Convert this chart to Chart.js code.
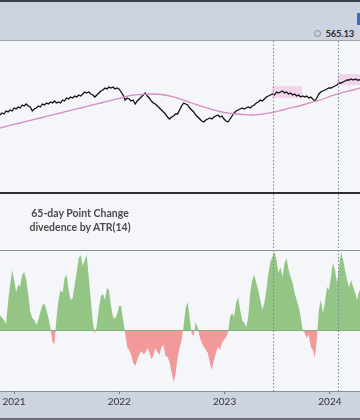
<!DOCTYPE html>
<html><head><meta charset="utf-8">
<script src="https://cdn.jsdelivr.net/npm/chart.js@4.4.1/dist/chart.umd.min.js"></script>
<style>
html,body{margin:0;padding:0;width:360px;height:420px;overflow:hidden;background:#f4f6fa;font-family:Lato,"Open Sans",sans-serif;}
.abs{position:absolute;}
#hdr{left:0;top:0;width:360px;height:40px;background:#cdd3e0;border-top:2px solid #3a3f4a;box-sizing:border-box;}
#hdrLine{left:0;top:40px;width:360px;height:1px;background:#9ea4ae;}
#priceWrap{left:0;top:41px;width:360px;height:151px;}
#sep1{left:0;top:192px;width:360px;height:2px;background:#2e2e2e;}
#sep2{left:0;top:250px;width:360px;height:1px;background:#8a8e96;}
#axisBand{left:0;top:391px;width:360px;height:29px;background:#cdd3e0;border-top:1px solid #8a8e96;border-bottom:2px solid #6a6e78;box-sizing:border-box;}
#histWrap{left:0;top:194px;width:360px;height:226px;}
#label{left:20px;top:206px;width:120px;text-align:center;font-weight:700;font-size:10.5px;line-height:14px;color:#4a4a4a;z-index:5;}
#last{right:6px;top:28px;font-weight:700;font-size:9.5px;line-height:11px;letter-spacing:-0.2px;color:#2a2a2a;}
#dot{left:314px;top:30px;width:5px;height:5px;border:1px solid #8a8e96;border-radius:50%;}
#blue{left:357px;top:13px;width:3px;height:12px;background:#3a6fc0;}
canvas{display:block;}
</style></head>
<body>
<div id="hdr" class="abs"></div>
<div id="hdrLine" class="abs"></div>
<div id="blue" class="abs"></div>
<div id="dot" class="abs"></div>
<div id="last" class="abs">565.13</div>
<div id="sep1" class="abs"></div>
<div id="sep2" class="abs"></div>
<div id="axisBand" class="abs"></div>
<div id="priceWrap" class="abs"><canvas id="price" width="360" height="151"></canvas></div>
<div id="histWrap" class="abs"><canvas id="hist" width="360" height="226"></canvas></div>
<div id="label" class="abs">65-day Point Change<br>divedence by ATR(14)</div>
<script>
// ---- data (weekly observations starting 2020-11-13) ----
const startYear = 2020.867;
const endYear = 2024.286;
const weekStep = 7 / 365.25;

const closePrices = [
477.5,482.5,480,487.5,485,490,487.5,495,492.5,497.5,495,502.5,500,505,500,497.5,487.5,492.5,495,500,
497.5,505,502.5,507.5,505,510,507.5,512.5,507.5,510,507.5,515,512.5,520,517.5,522.5,520,525,522.5,527.5,
525,530,535,532.5,535,530,527.5,522.5,527.5,532.5,537.5,540,545,542.5,547.5,545,547.5,542.5,545,542.5,
535,527.5,515,520,517.5,512.5,515,505,512.5,517.5,522.5,527.5,532.5,525,520,512.5,507.5,505,500,495,
490,485,480,472.5,467.5,472.5,475,480,480,490,500,507.5,505,502.5,495,490,485,477.5,472.5,467.5,
462.5,460,465,467.5,470,467.5,472.5,475,477.5,472.5,475,467.5,462.5,460,467.5,475,482.5,487.5,490,492.5,
495,492.5,495,497.5,495,500,502.5,507.5,510,515,512.5,517.5,522.5,525,527.5,530,527.5,535,532.5,535,
537.5,532.5,535,530,532.5,527.5,530,525,527.5,522.5,525,522.5,525,520,522.5,517.5,512.5,520,530,535,
537.5,540,542.5,545,545,547.5,550,552.5,557.5,557.5,560,562.5,565,565,567.5,565,567.5,565,565,567.5,
565.13
];

const smaStepWeeks = 5;
const sma200 = [
445,451.3,457.5,463.8,470,476.3,482.5,488.8,495,501.3,507.5,513.8,520,526.3,528.8,530,528.8,523.8,516.3,507.5,
498.8,491.3,485,481.3,478.8,477.5,480,483.8,490,496.3,502.5,510,517.5,526.3,533.8,540,547.5
];

// 65-day point change divided by ATR(14)
const pointChangeATR = [
1.5,1.2,1.0,0.6,2.8,4.5,6.0,5.0,3.8,4.5,4.4,5.5,5.8,5.0,3.5,1.8,1.2,1.0,0.5,1.0,
1.8,2.5,2.6,2.0,1.2,0.2,-1.2,-1.4,1.2,3.0,4.0,3.7,5.2,5.5,4.0,3.0,3.2,4.5,5.8,7.2,
7.5,6.4,7.0,7.5,5.2,3.0,0.8,-0.4,0.5,2.2,3.4,3.6,3.0,4.2,4.0,2.4,1.3,1.1,1.6,2.4,
2.4,1.0,-0.3,-1.7,-2.0,-2.5,-3.3,-3.6,-3.0,-2.5,-2.1,-2.4,-2.3,-1.8,-2.2,-2.9,-2.6,-1.8,-2.2,-2.5,
-1.7,-1.5,-2.6,-2.7,-3.2,-4.2,-5.2,-4.4,-2.8,-1.8,-1.0,0.4,2.2,2.8,1.2,-0.4,-0.6,0.8,0.2,-0.7,
-1.3,-1.7,-2.0,-2.3,-3.3,-4.0,-3.0,-2.3,-1.7,-2.0,-1.3,-1.0,-0.7,-0.3,1.3,1.7,1.3,2.7,3.3,2.0,
1.0,0.7,0.3,1.3,3.7,5.0,5.5,4.7,4.0,3.0,2.0,2.7,4.0,5.7,6.8,7.3,7.8,7.0,5.7,6.3,
5.3,6.7,7.2,6.0,5.3,4.7,3.7,3.0,2.3,1.3,0,-0.3,-0.8,-0.5,-1.7,-2.0,-2.8,-1.0,2.0,3.0,
1.7,2.7,4.3,4.0,5.3,6.7,6.0,4.7,6.3,7.8,7.0,6.0,5.0,4.3,5.0,4.3,3.7,3.0,4.0,3.3,
3.0
];

// event markers and highlighted zones
const eventMarkers = [2023.46, 2024.077];
const zones = [
  {from: 2023.449, to: 2023.735, hi: 550, lo: 520},
  {from: 2024.072, to: 2024.29, hi: 580, lo: 552.5}
];
const yearTicks = [2021, 2022, 2023, 2024];

// ---- build point lists ----
const pricePts = closePrices.map((v, i) => ({x: startYear + i * weekStep, y: v}));
const smaPts = sma200.map((v, i) => ({x: startYear + i * smaStepWeeks * weekStep, y: v}));
const histPts = pointChangeATR.map((v, i) => ({x: startYear + i * weekStep, y: v}));

const markerPlugin = {
  id: 'markers',
  afterDatasetsDraw(chart) {
    const ctx = chart.ctx, xs = chart.scales.x;
    ctx.save();
    ctx.strokeStyle = '#7d8596';
    ctx.lineWidth = 1;
    ctx.setLineDash([1.5, 2]);
    eventMarkers.forEach(m => {
      const px = Math.round(xs.getPixelForValue(m)) + 0.5;
      ctx.beginPath();
      ctx.moveTo(px, 0);
      ctx.lineTo(px, chart.chartArea.bottom);
      ctx.stroke();
    });
    ctx.restore();
  }
};

const zonePlugin = {
  id: 'zones',
  beforeDatasetsDraw(chart) {
    const ctx = chart.ctx, xs = chart.scales.x, ys = chart.scales.y;
    ctx.save();
    ctx.fillStyle = 'rgba(240,196,228,0.65)';
    zones.forEach(z => {
      const x1 = xs.getPixelForValue(z.from), x2 = xs.getPixelForValue(z.to);
      const y1 = ys.getPixelForValue(z.hi), y2 = ys.getPixelForValue(z.lo);
      ctx.fillRect(x1, y1, x2 - x1, y2 - y1);
    });
    ctx.restore();
  }
};

const zeroPlugin = {
  id: 'zero',
  afterDatasetsDraw(chart) {
    const ctx = chart.ctx, ys = chart.scales.y, a = chart.chartArea;
    const py = Math.round(ys.getPixelForValue(0)) + 0.5;
    ctx.save();
    ctx.strokeStyle = '#86ad7c';
    ctx.lineWidth = 1;
    ctx.beginPath(); ctx.moveTo(a.left, py); ctx.lineTo(a.right, py); ctx.stroke();
    ctx.restore();
  }
};

const xBase = {type: 'linear', min: startYear, max: endYear};

new Chart(document.getElementById('price'), {
  type: 'line',
  data: {datasets: [
    {data: smaPts, borderColor: '#d98cbf', borderWidth: 1.3, pointRadius: 0, tension: 0.4},
    {data: pricePts, borderColor: '#111111', borderWidth: 1.3, pointRadius: 0, tension: 0}
  ]},
  options: {
    responsive: false, animation: false, events: [],
    layout: {padding: 0},
    plugins: {legend: {display: false}, tooltip: {enabled: false}},
    scales: {
      x: Object.assign({}, xBase, {display: false}),
      y: {display: false, min: 285, max: 662.5}
    }
  },
  plugins: [zonePlugin, markerPlugin]
});

new Chart(document.getElementById('hist'), {
  type: 'line',
  data: {datasets: [{
    data: histPts, borderWidth: 0, borderColor: 'rgba(0,0,0,0)', pointRadius: 0, tension: 0,
    fill: {target: 'origin', above: '#93c585', below: '#f29a9a'}
  }]},
  options: {
    responsive: false, animation: false, events: [],
    layout: {padding: {top: 57, left: 0, right: 0, bottom: 0}},
    plugins: {legend: {display: false}, tooltip: {enabled: false}, filler: {propagate: false}},
    scales: {
      x: Object.assign({}, xBase, {
        display: true,
        border: {display: false},
        grid: {drawOnChartArea: false, drawTicks: true, tickLength: 3, color: '#6f7480'},
        afterFit(s) { s.height = 29; },
        afterBuildTicks(s) { s.ticks = yearTicks.map(v => ({value: v})); },
        ticks: {
          autoSkip: false, maxRotation: 0, padding: 2,
          color: '#333333', font: {family: 'Lato', size: 10},
          callback: v => String(v)
        }
      }),
      y: {display: false, min: -6.1, max: 7.9}
    }
  },
  plugins: [zeroPlugin, markerPlugin]
});
</script>
</body></html>
